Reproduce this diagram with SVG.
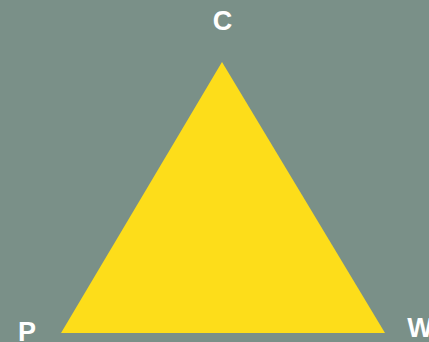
<svg xmlns="http://www.w3.org/2000/svg" width="429" height="342" viewBox="0 0 429 342">
<style>
.lbl{font-family:"Liberation Sans",Arial,sans-serif;font-weight:bold;font-size:27px;fill:#ffffff;text-anchor:middle}
</style>
<rect width="429" height="342" fill="#7a9088"/>
<g id="triangle"><polygon points="222,62 61,333 385,333" fill="#fddd1a"/></g>
<g id="C"><text class="lbl" x="222.5" y="30">C</text></g>
<g id="P"><text class="lbl" x="27" y="341">P</text></g>
<g id="W"><text class="lbl" x="420" y="337">W</text></g>
</svg>
